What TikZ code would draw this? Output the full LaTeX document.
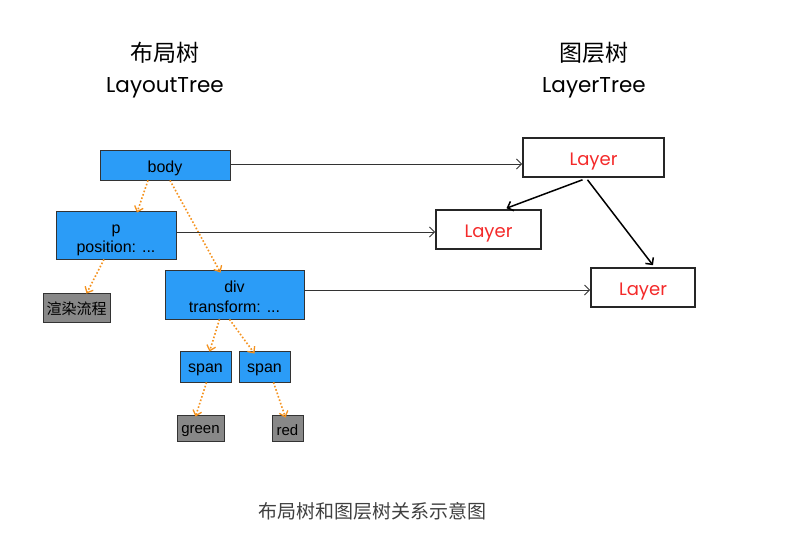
\documentclass[tikz,border=0pt]{standalone}
\usepackage{fontspec}
\setmainfont{Liberation Sans}
\newfontfamily\cjk{Noto Sans CJK SC}
\newfontfamily\hand{Poppins}
\usetikzlibrary{arrows.meta}
\newcommand{\dropby}[2]{\raisebox{-#1}[\height][\depth]{#2}}
\newcommand{\twolines}[2]{\dropby{4pt}{\renewcommand{\arraystretch}{1.05}\begin{tabular}{@{}c@{}}#1\\#2\end{tabular}}}
\definecolor{bluebox}{HTML}{2B9CF7}
\definecolor{graybox}{HTML}{888888}
\definecolor{orarrow}{HTML}{F5921E}
\definecolor{layerred}{HTML}{F42A2A}
\tikzset{
  bluenode/.style={draw=black!80, fill=bluebox, line width=0.8pt, inner sep=0pt, font=\fontsize{16}{19}\selectfont},
  graynode/.style={draw=black!80, fill=graybox, line width=0.8pt, inner sep=0pt, font=\fontsize{15}{18}\selectfont},
  layernode/.style={draw=black!85, line width=1.6pt, inner sep=0pt, text=layerred, font=\hand\fontsize{18}{21}\selectfont},
  orarrowline/.style={draw=orarrow, line width=1.6pt, dotted, -{Straight Barb[length=5pt,width=9pt,line width=1.3pt]}},
  blackarrow/.style={draw=black!80, line width=0.9pt, -{Straight Barb[length=5pt,width=10pt,line width=1pt]}},
  layerarrow/.style={draw=black, line width=1.5pt, -{Straight Barb[length=5pt,width=10pt,line width=1.5pt]}},
  titlecn/.style={font=\cjk\fontsize{23}{27}\selectfont},
  titleen/.style={font=\hand\fontsize{21.5}{25}\selectfont},
}
\begin{document}
\begin{tikzpicture}[x=1pt,y=-1pt]
\useasboundingbox[fill=white] (0,0) rectangle (801,543);
% titles
\node[titlecn] (t1) at (165,53) {布局树};
\node[titleen] (t2) at (165,88) {LayoutTree};
\node[titlecn] (t3) at (594,53) {图层树};
\node[titleen] (t4) at (594,88) {LayerTree};
% layout tree
\node[bluenode, minimum width=130pt, minimum height=30pt] (body) at (165,165) {\dropby{3pt}{body}};
\node[bluenode, minimum width=120pt, minimum height=48pt] (p) at (116,235) {\twolines{p}{position: ...}};
\node[graynode, minimum width=67pt, minimum height=29pt] (render) at (76.5,307.5) {\dropby{1pt}{\cjk 渲染流程}};
\node[bluenode, minimum width=139pt, minimum height=49pt] (div) at (234.5,294.5) {\twolines{div}{transform: ...}};
\node[bluenode, minimum width=51pt, minimum height=31pt] (span1) at (205.5,366.5) {\dropby{3pt}{span}};
\node[bluenode, minimum width=51pt, minimum height=31pt] (span2) at (264.5,366.5) {\dropby{3pt}{span}};
\node[graynode, minimum width=47pt, minimum height=26pt] (green) at (200.5,428) {\dropby{3pt}{green}};
\node[graynode, minimum width=31pt, minimum height=26pt] (red) at (287.5,428) {\dropby{2pt}{red}};
% layer tree
\node[layernode, minimum width=141pt, minimum height=39pt] (L1) at (593.5,157.5) {\dropby{4pt}{Layer}};
\node[layernode, minimum width=105pt, minimum height=39pt] (L2) at (488.5,229.5) {\dropby{4pt}{Layer}};
\node[layernode, minimum width=104pt, minimum height=39pt] (L3) at (643,287.5) {\dropby{4pt}{Layer}};
% orange dotted arrows
\draw[orarrowline] ([xshift=-17pt]body.south) -- ([xshift=21pt,yshift=-2pt]p.north);
\draw[orarrowline] ([xshift=5pt]body.south) -- ([xshift=-14pt,yshift=-3pt]div.north);
\draw[orarrowline] ([xshift=-12pt]p.south) -- ([xshift=10pt,yshift=-1pt]render.north);
\draw[orarrowline] ([xshift=-15pt]div.south) -- ([xshift=4pt,yshift=-1pt]span1.north);
\draw[orarrowline] ([xshift=-5pt]div.south) -- ([xshift=-10pt,yshift=-3pt]span2.north);
\draw[orarrowline] ([xshift=1pt]span1.south) -- ([xshift=-5pt,yshift=-2pt]green.north);
\draw[orarrowline] ([xshift=9pt]span2.south) -- ([xshift=-2pt,yshift=-3pt]red.north);
% black horizontal arrows
\draw[blackarrow] (body.east |- 0,164) -- (L1.west |- 0,164);
\draw[blackarrow] (p.east |- 0,232) -- (L2.west |- 0,232);
\draw[blackarrow] (div.east |- 0,290) -- (L3.west |- 0,290);
% layer tree arrows
\draw[layerarrow] ([xshift=-11pt,yshift=-2pt]L1.south) -- ([xshift=18pt,yshift=1pt]L2.north);
\draw[layerarrow] ([xshift=-6pt,yshift=-2pt]L1.south) -- ([xshift=10pt,yshift=2pt]L3.north);
% caption
\node[font=\cjk\fontsize{19}{22}\selectfont, text=black!75] (cap) at (372,511) {布局树和图层树关系示意图};
\end{tikzpicture}
\end{document}
